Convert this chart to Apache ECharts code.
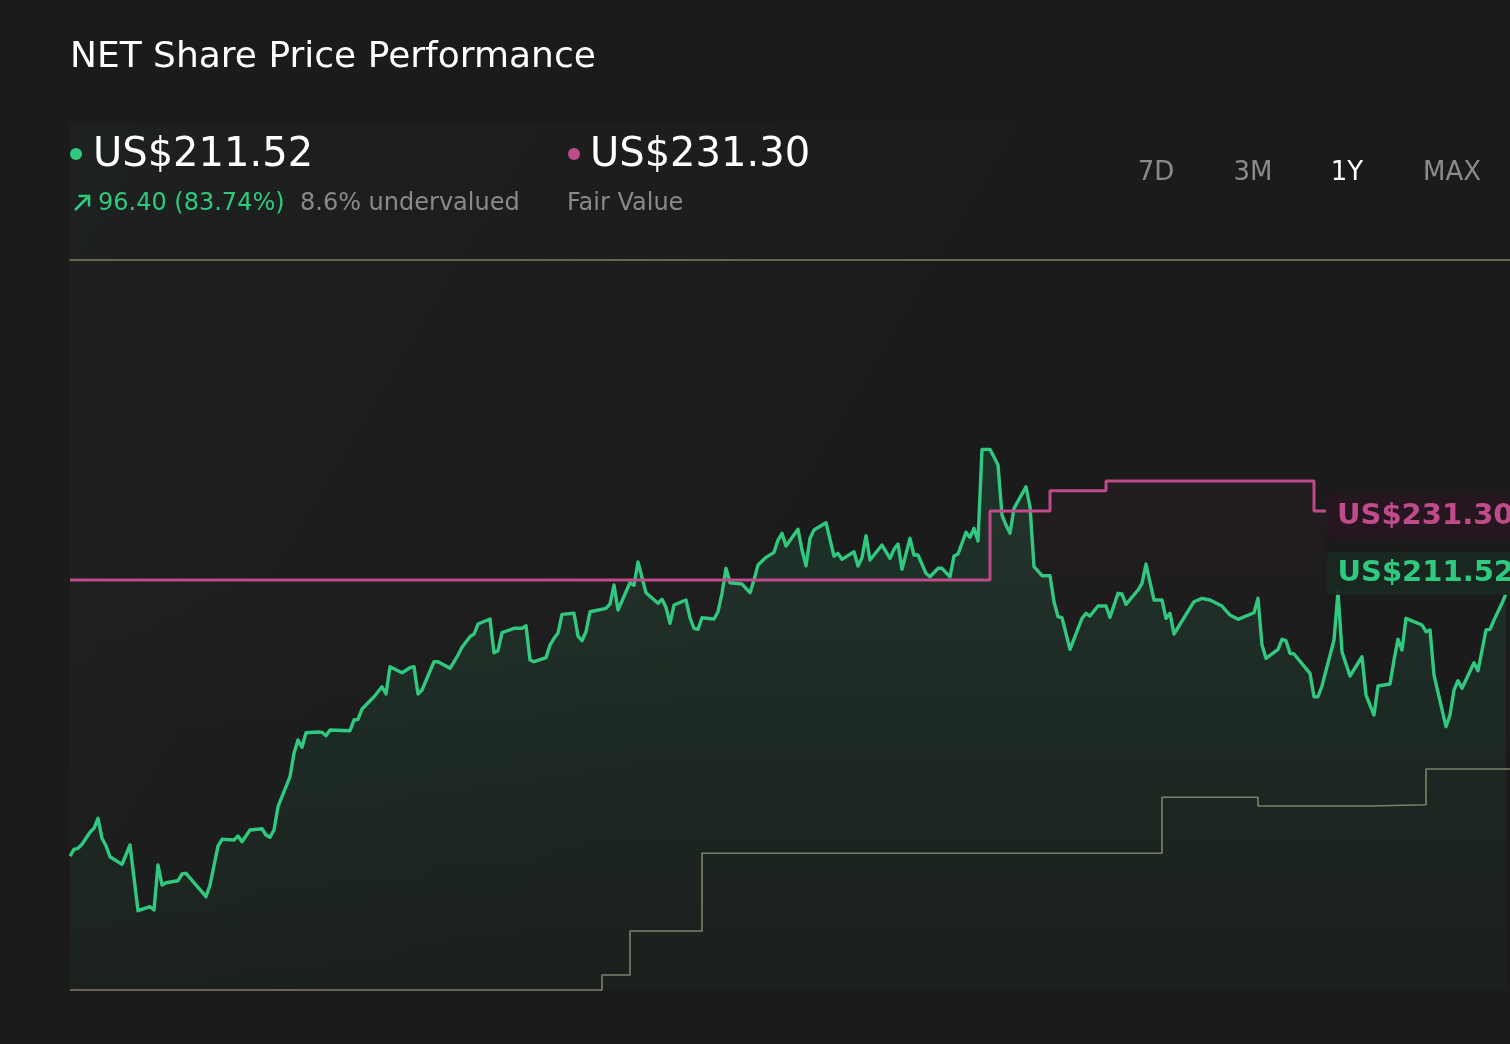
<!DOCTYPE html>
<html>
<head>
<meta charset="utf-8">
<script src="https://cdn.jsdelivr.net/npm/echarts@6/dist/echarts.min.js"></script>
<style>
html,body{margin:0;padding:0;background:#1b1b1b;}
#chart{width:1510px;height:1044px;}
</style>
</head>
<body>
<div id="chart"></div>
<script>
// ---- text ----
const chartTitle = 'NET Share Price Performance';
const lastPriceText = 'US$211.52';
const changeText = '96.40 (83.74%)';
const valuationText = '8.6% undervalued';
const fairValueText = 'US$231.30';
const fairValueCaption = 'Fair Value';
const rangeLabels = ['7D', '3M', '1Y', 'MAX'];
const activeRange = '1Y';

// ---- share price (day index, price) ----
const priceDays = [
  0,1,2,3,5,6,7,8,9,10,
  13,15,17,20,21,22,23,24,27,28,
  29,34,35,37,38,41,42,43,45,48,
  49,50,51,52,55,56,57,58,59,62,
  63,64,65,70,71,72,73,76,78,79,
  80,83,85,86,87,88,91,92,95,97,
  98,100,101,102,105,106,107,108,111,113,
  114,115,116,119,120,121,122,123,126,127,
  128,129,130,134,135,136,137,140,141,142,
  144,147,148,149,150,151,154,155,156,157,
  158,161,162,163,164,165,168,170,171,172,
  174,176,177,178,179,182,183,184,185,186,
  189,191,192,193,196,197,198,199,200,203,
  205,206,207,208,210,211,212,214,215,217,
  218,220,221,222,224,225,226,227,228,230,
  232,233,234,235,236,239,240,241,243,245,
  246,247,248,250,253,254,255,257,259,260,
  262,263,264,267,268,269,271,273,274,275,
  276,281,283,285,288,290,292,296,297,298,
  299,302,303,304,305,306,310,311,312,313,
  316,317,318,320,323,324,325,326,327,330,
  331,332,333,334,338,339,340,341,344,345,
  346,347,348,351,352,354,355,356,358,359
];
const prices = [
  115.12,117.65,118.02,119.49,123.89,125.36,129.03,121.69,118.97,114.93,
  112.14,119.23,95.11,96.58,95.37,111.89,104.55,105.39,106.12,108.58,
  108.84,100.25,104.55,118.86,121.32,121.07,122.53,120.44,124.74,125.21,
  122.90,122.06,124.74,133.29,144.30,152.89,157.78,155.10,160.46,160.71,
  160.60,159.35,161.45,161.19,165.12,165.37,169.16,173.67,177.34,174.66,
  184.68,182.48,184.32,184.68,174.66,176.13,186.52,186.52,184.10,188.98,
  191.80,195.70,196.69,200.36,202.19,189.82,190.56,197.17,198.78,198.78,
  199.73,187.14,186.52,187.99,192.65,195.11,197.05,203.92,204.29,195.95,
  194.23,197.53,204.87,206.12,207.70,214.68,205.50,215.52,214.57,223.12,
  211.85,207.96,209.43,206.49,200.62,207.33,209.17,202.67,198.78,198.41,
  202.67,202.19,204.87,211.63,220.81,215.52,215.04,211.85,216.51,222.02,
  224.84,226.68,231.20,233.65,228.99,235.12,227.52,221.76,231.82,234.87,
  237.55,225.32,226.31,224.11,226.90,221.65,224.70,232.77,223.85,229.36,
  224.48,227.78,229.73,220.44,231.82,225.69,225.69,218.97,217.72,220.81,
  220.81,217.72,225.32,226.06,234.02,232.19,235.49,230.83,264.49,264.49,
  258.73,240.37,236.70,233.65,242.83,250.76,243.42,221.39,218.09,218.09,
  208.55,203.04,202.67,191.07,202.45,204.29,203.30,206.97,206.97,202.82,
  211.63,211.37,207.59,212.84,215.30,222.38,209.17,209.17,202.45,204.29,
  196.69,208.55,209.79,209.17,206.97,203.66,202.08,204.51,209.79,192.65,
  187.77,191.07,194.74,194.23,189.60,189.35,182.26,173.67,173.67,177.60,
  194.49,212.22,190.19,181.27,188.35,174.29,170.62,166.95,177.60,178.33,
  187.14,194.74,190.81,202.45,199.99,197.53,198.16,181.64,162.66,166.95,
  176.13,179.54,176.75,186.15,183.22,198.16,198.41,201.83,207.96,211.52
];

// ---- fair value steps (day index where each level starts, level) ----
const fairDays = [0, 230, 245, 259, 311, 314];
const fairValues = [216.51, 241.84, 249.29, 252.85, 241.84, 241.84];

// ---- lower grey step line ----
const baseDays = [0, 133, 140, 158, 273, 297, 325, 339, 360];
const baseValues = [66.0, 71.51, 87.66, 116.18, 136.74, 133.55, 134.02, 147.13, 147.13];

// ---- axis ranges ----
const dayMin = 0, dayMax = 360;
const priceMin = 66, priceMax = 334;

const GREEN = '#2fca7f';
const PINK = '#c04b8b';
const GREY_LINE = '#807d68';
const MUTED = '#8a8a8a';
const FONT = '"DejaVu Sans", sans-serif';

const pricePairs = priceDays.map((d, i) => [d, prices[i]]);
const fairPairs = fairDays.map((d, i) => [d, fairValues[i]]);
const basePairs = baseDays.map((d, i) => [d, baseValues[i]]);

const chart = echarts.init(document.getElementById('chart'), null, {renderer: 'canvas'});

const rangeCenters = [1156, 1253, 1347, 1452];

const graphics = [
  {
    type: 'rect', z: -10, silent: true,
    shape: {x: 70, y: 124, width: 1440, height: 866},
    style: {
      fill: new echarts.graphic.LinearGradient(0, 0, 1, 1, [
        {offset: 0, color: 'rgba(60,110,85,0.07)'},
        {offset: 0.5, color: 'rgba(60,110,85,0.0)'}
      ])
    }
  },
  {type: 'text', x: 70, y: 58, z: 10,
    style: {text: chartTitle, fill: '#ffffff', font: '36px ' + FONT, textAlign: 'left', textVerticalAlign: 'middle'}},
  {type: 'circle', z: 10, shape: {cx: 76, cy: 154, r: 6}, style: {fill: GREEN}},
  {type: 'text', x: 93, y: 156, z: 10,
    style: {text: lastPriceText, fill: '#ffffff', font: '40px ' + FONT, textAlign: 'left', textVerticalAlign: 'middle'}},
  {type: 'polyline', z: 10, shape: {points: [[75, 210], [89, 196]]},
    style: {stroke: GREEN, lineWidth: 2.6, fill: null}},
  {type: 'polyline', z: 10, shape: {points: [[78.5, 196], [89, 196], [89, 206.5]]},
    style: {stroke: GREEN, lineWidth: 2.6, fill: null}},
  {type: 'text', x: 98, y: 204, z: 10,
    style: {text: changeText, fill: GREEN, font: '24px ' + FONT, textAlign: 'left', textVerticalAlign: 'middle'}},
  {type: 'text', x: 300, y: 204, z: 10,
    style: {text: valuationText, fill: MUTED, font: '24px ' + FONT, textAlign: 'left', textVerticalAlign: 'middle'}},
  {type: 'circle', z: 10, shape: {cx: 574, cy: 154, r: 6}, style: {fill: PINK}},
  {type: 'text', x: 590, y: 156, z: 10,
    style: {text: fairValueText, fill: '#ffffff', font: '40px ' + FONT, textAlign: 'left', textVerticalAlign: 'middle'}},
  {type: 'text', x: 567, y: 204, z: 10,
    style: {text: fairValueCaption, fill: MUTED, font: '24px ' + FONT, textAlign: 'left', textVerticalAlign: 'middle'}}
];
rangeLabels.forEach((r, i) => {
  graphics.push({type: 'text', x: rangeCenters[i], y: 173, z: 10,
    style: {text: r, fill: r === activeRange ? '#ffffff' : MUTED, font: '26px ' + FONT, textAlign: 'center', textVerticalAlign: 'middle'}});
});

const option = {
  backgroundColor: '#1b1b1b',
  animation: false,
  textStyle: {fontFamily: FONT},
  grid: {left: 70, right: 0, top: 260, bottom: 54, containLabel: false},
  xAxis: {
    type: 'value', min: dayMin, max: dayMax, position: 'top',
    axisLine: {show: true, onZero: false, lineStyle: {color: GREY_LINE, width: 1.5}},
    axisTick: {show: false}, axisLabel: {show: false}, splitLine: {show: false}
  },
  yAxis: {
    type: 'value', min: priceMin, max: priceMax, show: false,
    splitLine: {show: false}
  },
  graphic: graphics,
  series: [
    {
      name: 'Share Price', type: 'line', data: pricePairs,
      symbol: 'none', showSymbol: false, z: 3,
      lineStyle: {color: GREEN, width: 3.4, join: 'round'},
      itemStyle: {color: GREEN},
      areaStyle: {
        origin: 'start',
        color: new echarts.graphic.LinearGradient(0, 0, 0, 1, [
          {offset: 0, color: 'rgba(47,202,127,0.2)'},
          {offset: 1, color: 'rgba(47,202,127,0.03)'}
        ])
      },
      markPoint: {
        symbol: 'circle', symbolSize: 1, silent: true,
        itemStyle: {color: 'rgba(0,0,0,0)'},
        label: {
          show: true, position: 'right', distance: 0, offset: [0, -20],
          formatter: lastPriceText, color: GREEN, fontSize: 29, fontWeight: 'bold',
          fontFamily: FONT, lineHeight: 29,
          backgroundColor: 'rgba(26,40,33,0.92)', borderRadius: 5,
          padding: [4, 12, 10, 11]
        },
        data: [{coord: [fairDays[fairDays.length - 1], prices[prices.length - 1]]}]
      }
    },
    {
      name: 'Baseline', type: 'line', data: basePairs, step: 'end',
      symbol: 'none', showSymbol: false, z: 2, clip: false,
      lineStyle: {color: GREY_LINE, width: 1.6}
    },
    {
      name: 'Fair Value', type: 'line', data: fairPairs, step: 'end',
      symbol: 'none', showSymbol: false, z: 4,
      lineStyle: {color: PINK, width: 3},
      itemStyle: {color: PINK},
      areaStyle: {
        origin: 'start',
        color: new echarts.graphic.LinearGradient(0, 0, 0, 1, [
          {offset: 0, color: 'rgba(192,75,139,0.06)'},
          {offset: 0.5, color: 'rgba(192,75,139,0.0)'}
        ])
      },
      endLabel: {
        show: true, distance: 0, offset: [0, 5],
        formatter: fairValueText, color: PINK, fontSize: 29, fontWeight: 'bold',
        fontFamily: FONT, lineHeight: 29,
        backgroundColor: 'rgba(38,22,32,0.92)', borderRadius: 5,
        padding: [5, 12, 9, 11]
      }
    }
  ]
};
chart.setOption(option);
</script>
</body>
</html>
